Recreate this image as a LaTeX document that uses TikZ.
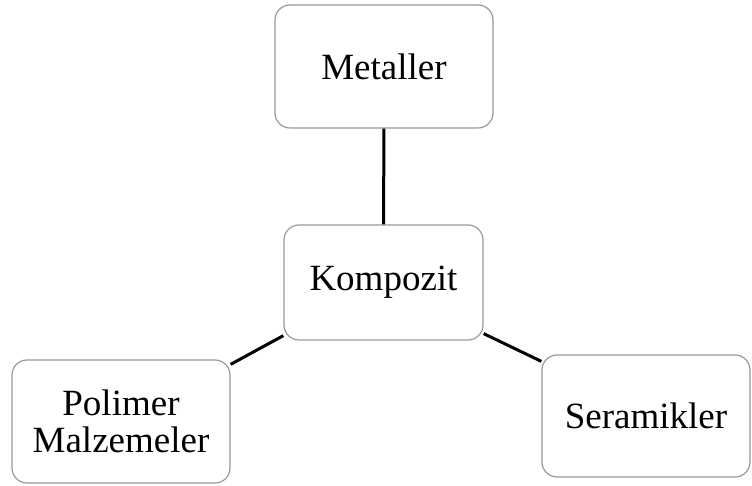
\documentclass[tikz,border=0pt]{standalone}
\usepackage{fontspec}
\setmainfont{Liberation Serif}
\usepackage{tikz}
\usetikzlibrary{positioning}

\begin{document}
\begin{tikzpicture}[x=0.5pt, y=-0.5pt, font=\fontsize{18.5}{18.5}\selectfont,
  kutu/.style={draw=gray!80, line width=0.6pt, rounded corners=7.5pt, fill=white, align=center, inner sep=0pt},
  bag/.style={line width=1.5pt}]
\useasboundingbox (0,0) rectangle (752,486);
\node[kutu, minimum width=109pt, minimum height=61.5pt] (metal) at (384,66.5) {Metaller};
\node[kutu, minimum width=99.5pt, minimum height=57.5pt] (komp) at (383.5,282.5) {Kompozit};
\node[kutu, minimum width=109pt, minimum height=61.5pt] (polimer) at (121,421.5) {Polimer\\Malzemeler};
\node[kutu, minimum width=104pt, minimum height=61pt] (seramik) at (646,416) {Seramikler};
% baglantilar
\draw[bag] (metal.south) -- (komp.north);
\draw[bag] ([yshift=2.5pt]komp.south west) -- ([yshift=-2.5pt]polimer.north east);
\draw[bag] ([yshift=3.5pt]komp.south east) -- ([yshift=-3.5pt]seramik.north west);
\end{tikzpicture}
\end{document}
